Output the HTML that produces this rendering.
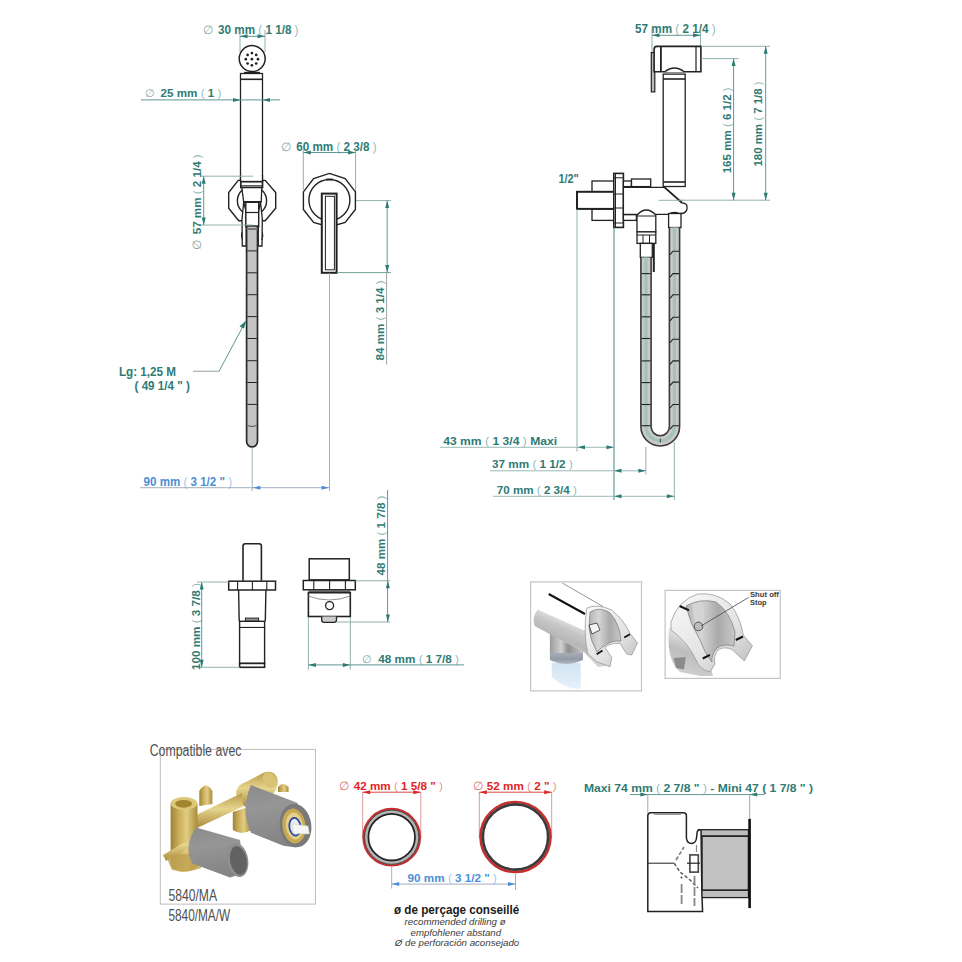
<!DOCTYPE html>
<html><head><meta charset="utf-8">
<style>
html,body{margin:0;padding:0;background:#fff;}
#c{position:relative;width:962px;height:962px;overflow:hidden;background:#fff;}
svg{position:absolute;left:0;top:0;}
text{font-family:"Liberation Sans",sans-serif;}
.t{font-weight:bold;font-size:12.5px;fill:#2e7b74;}
.tv{font-size:11.5px;}
.tb{font-weight:bold;font-size:12.5px;fill:#4a8fd6;}
.tr{font-weight:bold;font-size:12.5px;fill:#d62a2a;}
.pp{font-weight:normal;fill-opacity:0.55;}
.dm{stroke:#5f9893;stroke-width:1;fill:none;}
.ex{stroke:#86a9a6;stroke-width:0.9;fill:none;}
.bl{stroke:#a3afc0;stroke-width:1;fill:none;}
.rl{stroke:#d84848;stroke-width:1;fill:none;}
.k{stroke:#222;stroke-width:1.3;fill:none;}
.kw{stroke:#222;stroke-width:1.3;fill:#fff;}
.kt{stroke:#222;stroke-width:2.2;fill:none;}
.hose{stroke:#2a2a2a;stroke-width:1.7;fill:#c4c4c4;}
.seg{stroke:#8a8a8a;stroke-width:1.2;}
</style></head>
<body><div id="c">
<svg width="962" height="962" viewBox="0 0 962 962">
<g id="tl">
<text x="203.1" y="33.7" class="t" style="font-size:12px;font-weight:normal;fill:#8aa9a6">∅</text>
<text x="218.1" y="33.7" class="t" textLength="80.4" lengthAdjust="spacingAndGlyphs" >30 mm <tspan class="pp">(</tspan> 1 1/8 <tspan class="pp">)</tspan></text>
<line x1="240" y1="30" x2="240" y2="52" class="ex" />
<line x1="265" y1="30" x2="265" y2="52" class="ex" />
<line x1="240" y1="36.3" x2="265" y2="36.3" class="dm" />
<polygon points="240,36.3 247.5,34.3 247.5,38.3" fill="#2e7b74"/>
<polygon points="265,36.3 257.5,34.3 257.5,38.3" fill="#2e7b74"/>
<circle cx="252.2" cy="58.6" r="13" class="kw" style="stroke-width:1.5"/>
<circle cx="258.00" cy="59.20" r="1.35" fill="#222"/>
<circle cx="256.21" cy="63.51" r="1.35" fill="#222"/>
<circle cx="251.90" cy="65.30" r="1.35" fill="#222"/>
<circle cx="247.59" cy="63.51" r="1.35" fill="#222"/>
<circle cx="245.80" cy="59.20" r="1.35" fill="#222"/>
<circle cx="247.59" cy="54.89" r="1.35" fill="#222"/>
<circle cx="251.90" cy="53.10" r="1.35" fill="#222"/>
<circle cx="256.21" cy="54.89" r="1.35" fill="#222"/>
<circle cx="251.9" cy="59.2" r="1.35" fill="#222"/>
<path d="M244,72.5 L260,72.5" class="k" />
<rect x="240.5" y="73.5" width="22" height="108.5" class="kw" />
<line x1="240.5" y1="79.3" x2="262.5" y2="79.3" class="kt" style="stroke-width:1.6"/>
<text x="145.1" y="97.3" class="t" style="font-size:11px;font-weight:normal;fill:#8aa9a6">∅</text>
<text x="160.6" y="97.3" class="t" textLength="60.8" lengthAdjust="spacingAndGlyphs"  font-size="11" style="font-size:11px">25 mm <tspan class="pp">(</tspan> 1 <tspan class="pp">)</tspan></text>
<line x1="141" y1="99.9" x2="280" y2="99.9" class="dm" />
<polygon points="240.5,99.9 233.0,97.9 233.0,101.9" fill="#2e7b74"/>
<polygon points="262.5,99.9 270.0,97.9 270.0,101.9" fill="#2e7b74"/>
<polygon points="238.2,180.4 265.2,180.4 275.7,192.5 275.7,208.3 265.2,220.8 238.7,220.8 228.7,208.3 228.7,192.5" class="kw" style="stroke-width:1.4"/>
<circle cx="252" cy="200.8" r="14.6" class="k" style="stroke-width:1.4"/>
<rect x="241.2" y="176" width="20.6" height="6" class="k" style="stroke:none;fill:#fff"/>
<line x1="240.5" y1="175" x2="240.5" y2="182" class="k" />
<line x1="262.5" y1="175" x2="262.5" y2="182" class="k" />
<rect x="240.8" y="181.7" width="21.7" height="5.8" class="kw" style="stroke-width:1.7"/>
<line x1="241" y1="185.6" x2="262.3" y2="185.6" class="k" style="stroke-width:0.8"/>
<polygon points="241.8,187.5 261.8,187.5 261.2,202 243.7,202" class="kw"/>
<path d="M243.7,202 L242,219 L242.3,246 L246.2,246 L246.2,212 Z" class="kw" style="stroke-width:1.3"/>
<path d="M260.5,202 L262.3,219 L262,246 L258.3,246 L258.3,212 Z" class="kw" style="stroke-width:1.3"/>
<rect x="245.8" y="202" width="12.9" height="24.7" class="kw" style="stroke-width:1.4"/>
<line x1="243.5" y1="202" x2="261" y2="202" class="k" style="stroke-width:2"/>
<line x1="246" y1="212.5" x2="258.5" y2="212.5" class="k" style="stroke-width:1.2"/>
<path d="M242,232 Q240.5,236 242.5,240 M262.3,232 Q263.8,236 261.8,240" class="k" style="stroke-width:1"/>
<path d="M246.6,226 L246.6,441.5 A5.45,5.45 0 0 0 257.5,441.5 L257.5,226 Z" class="hose"/>
<line x1="246.6" y1="229" x2="257.5" y2="229" class="seg" style="stroke:#777;stroke-width:2"/>
<line x1="247.3" y1="250.9" x2="256.8" y2="250.9" class="k" style="stroke-width:1"/>
<line x1="247.3" y1="272.8" x2="256.8" y2="272.8" class="k" style="stroke-width:1"/>
<line x1="247.3" y1="294.7" x2="256.8" y2="294.7" class="k" style="stroke-width:1"/>
<line x1="247.3" y1="316.6" x2="256.8" y2="316.6" class="k" style="stroke-width:1"/>
<line x1="247.3" y1="338.5" x2="256.8" y2="338.5" class="k" style="stroke-width:1"/>
<line x1="247.3" y1="360.7" x2="256.8" y2="360.7" class="k" style="stroke-width:1"/>
<line x1="247.3" y1="382.5" x2="256.8" y2="382.5" class="k" style="stroke-width:1"/>
<line x1="247.3" y1="404.4" x2="256.8" y2="404.4" class="k" style="stroke-width:1"/>
<path d="M247.5,425.6 Q252,427.5 256.6,425.6" class="k" style="stroke-width:1;stroke:#555"/>
<line x1="200" y1="176.2" x2="253" y2="176.2" class="ex" />
<line x1="200" y1="225" x2="253" y2="225" class="ex" />
<line x1="203.7" y1="176.2" x2="203.7" y2="225" class="dm" />
<polygon points="203.7,176.2 201.7,183.7 205.7,183.7" fill="#2e7b74"/>
<polygon points="203.7,225 201.7,217.5 205.7,217.5" fill="#2e7b74"/>
<text x="0" y="0" class="t tv" style="font-weight:normal;fill:#8aa9a6" transform="translate(201,249.5) rotate(-90)">∅</text>
<text x="0" y="0" class="t tv" textLength="80" lengthAdjust="spacingAndGlyphs" transform="translate(200.8,234.3) rotate(-90)">57 mm <tspan class="pp">(</tspan> 2 1/4 <tspan class="pp">)</tspan></text>
<text x="280.6" y="151.2" class="t" style="font-size:12px;font-weight:normal;fill:#8aa9a6">∅</text>
<text x="296.2" y="151.2" class="t" textLength="80.4" lengthAdjust="spacingAndGlyphs"  font-size="12" style="font-size:12px">60 mm <tspan class="pp">(</tspan> 2 3/8 <tspan class="pp">)</tspan></text>
<line x1="303.3" y1="148" x2="303.3" y2="190" class="ex" />
<line x1="355.6" y1="148" x2="355.6" y2="197" class="ex" />
<line x1="303.3" y1="152.5" x2="355.6" y2="152.5" class="dm" />
<polygon points="303.3,152.5 310.8,150.5 310.8,154.5" fill="#2e7b74"/>
<polygon points="355.6,152.5 348.1,150.5 348.1,154.5" fill="#2e7b74"/>
<polygon points="329.4,173.4 345.2,178.5 355.4,191.9 355.4,209.4 345.2,222.5 329.4,227 313.6,222.5 303.4,209.4 303.4,191.9 313.6,178.5" class="kw" style="stroke-width:1.4"/>
<circle cx="329.4" cy="200" r="20.5" class="k" style="stroke-width:1.4"/>
<line x1="326" y1="179.5" x2="333" y2="179.5" class="k" style="stroke-width:1.8"/>
<rect x="321.8" y="193.6" width="14.8" height="79.2" class="kw" style="stroke-width:2"/>
<rect x="325.4" y="196.3" width="9" height="73.5" class="k" style="stroke-width:1"/>
<line x1="356" y1="200.6" x2="391" y2="200.6" class="ex" />
<line x1="336.8" y1="272.6" x2="391" y2="272.6" class="ex" style="stroke:#5f9893"/>
<line x1="387.2" y1="200.6" x2="387.2" y2="272.6" class="dm" />
<polygon points="387.2,200.6 385.2,208.1 389.2,208.1" fill="#2e7b74"/>
<polygon points="387.2,272.6 385.2,265.1 389.2,265.1" fill="#2e7b74"/>
<line x1="386.6" y1="273" x2="386.6" y2="364.6" class="ex" style="stroke:#999"/>
<text x="0" y="0" class="t tv" textLength="80" lengthAdjust="spacingAndGlyphs" transform="translate(383.6,360.4) rotate(-90)">84 mm <tspan class="pp">(</tspan> 3 1/4 <tspan class="pp">)</tspan></text>
<text x="119" y="375.8" class="t" textLength="57" lengthAdjust="spacingAndGlyphs" >Lg: 1,25 M</text>
<text x="134.5" y="389.5" class="t" textLength="55.5" lengthAdjust="spacingAndGlyphs" >( 49 1/4 " )</text>
<line x1="193" y1="371.3" x2="219" y2="371.3" class="ex" style="stroke:#a8b0b0;stroke-width:1.2"/>
<line x1="219" y1="371.3" x2="244.5" y2="323.5" class="dm" />
<polygon points="246.5,320 239.5,326.5 244,328.5" fill="#2e7b74"/>
<line x1="252.2" y1="448" x2="252.2" y2="491" class="ex" style="stroke:#9aa"/>
<line x1="329.5" y1="273" x2="329.5" y2="491" class="bl" />
<line x1="140" y1="487.7" x2="329.5" y2="487.7" class="bl" />
<polygon points="252.8,487.7 260.3,485.7 260.3,489.7" fill="#4a8fd6"/>
<polygon points="329,487.7 321.5,485.7 321.5,489.7" fill="#4a8fd6"/>
<text x="143.6" y="485.6" class="tb" textLength="88.4" lengthAdjust="spacingAndGlyphs"  font-size="12" style="font-size:12px">90 mm <tspan class="pp">(</tspan> 3 1/2 " <tspan class="pp">)</tspan></text>
</g>
<g id="tr">
<text x="635.1" y="33" class="t" textLength="80.5" lengthAdjust="spacingAndGlyphs"  font-size="12" style="font-size:12px">57 mm <tspan class="pp">(</tspan> 2 1/4 <tspan class="pp">)</tspan></text>
<line x1="652" y1="28" x2="652" y2="52" class="ex" />
<line x1="700.5" y1="28" x2="700.5" y2="46.5" class="ex" />
<line x1="652" y1="35.3" x2="700.5" y2="35.3" class="dm" />
<polygon points="652,35.3 659.5,33.3 659.5,37.3" fill="#2e7b74"/>
<polygon points="700.5,35.3 693.0,33.3 693.0,37.3" fill="#2e7b74"/>
<rect x="651.3" y="52.6" width="3.5" height="39.3" class="kw" style="stroke-width:1.2;fill:#bbb"/>
<path d="M657,46.4 L700.9,46.4 L700.9,71.8 L654.1,71.8 L654.1,49.4 Q654.1,46.4 657,46.4 Z" class="kw" style="stroke-width:1.6"/>
<line x1="660.9" y1="47" x2="660.9" y2="71.5" class="k" style="stroke-width:1.8"/>
<line x1="696" y1="47" x2="696" y2="71.5" class="k" style="stroke-width:1.2"/>
<path d="M664.5,72 Q674.4,64 684.5,72" class="kw" />
<rect x="663.2" y="74.1" width="22" height="112.4" class="kw" />
<line x1="663.2" y1="79" x2="685.2" y2="79" class="kt" style="stroke-width:1.6"/>
<line x1="663.2" y1="182" x2="685.2" y2="182" class="kt" style="stroke-width:1.6"/>
<line x1="701" y1="46.3" x2="770" y2="46.3" class="ex" />
<line x1="701" y1="58.6" x2="738.5" y2="58.6" class="ex" />
<line x1="659" y1="200.2" x2="770" y2="200.2" class="ex" />
<line x1="733.6" y1="58.6" x2="733.6" y2="200.2" class="dm" />
<polygon points="733.6,58.6 731.6,66.1 735.6,66.1" fill="#2e7b74"/>
<polygon points="733.6,200.2 731.6,192.7 735.6,192.7" fill="#2e7b74"/>
<line x1="765.7" y1="46.3" x2="765.7" y2="200.2" class="dm" />
<polygon points="765.7,46.3 763.7,53.8 767.7,53.8" fill="#2e7b74"/>
<polygon points="765.7,200.2 763.7,192.7 767.7,192.7" fill="#2e7b74"/>
<text x="0" y="0" class="t tv" textLength="86" lengthAdjust="spacingAndGlyphs" transform="translate(731,173.3) rotate(-90)">165 mm <tspan class="pp">(</tspan> 6 1/2 <tspan class="pp">)</tspan></text>
<text x="0" y="0" class="t tv" textLength="85" lengthAdjust="spacingAndGlyphs" transform="translate(762.4,166.5) rotate(-90)">180 mm <tspan class="pp">(</tspan> 7 1/8 <tspan class="pp">)</tspan></text>
<text x="558.4" y="182.6" class="t" textLength="20.4" lengthAdjust="spacingAndGlyphs" >1/2"</text>
<rect x="592" y="181" width="22" height="11" class="kw" />
<rect x="592" y="209" width="22" height="11.4" class="kw" />
<rect x="577" y="191.8" width="37" height="17.1" class="kw" style="stroke-width:2"/>
<rect x="613.8" y="173.4" width="9.6" height="54" class="kw" style="stroke-width:1.6"/>
<line x1="615.5" y1="174" x2="615.5" y2="227" class="k" style="stroke-width:1"/>
<line x1="614" y1="177.8" x2="623.4" y2="177.8" class="k" style="stroke-width:1"/>
<line x1="614" y1="194" x2="623.4" y2="194" class="k" style="stroke-width:1"/>
<line x1="614" y1="208" x2="623.4" y2="208" class="k" style="stroke-width:1"/>
<line x1="614" y1="223" x2="623.4" y2="223" class="k" style="stroke-width:1"/>
<rect x="623.4" y="181" width="8" height="5.6" class="kw" />
<rect x="631.5" y="179" width="19.2" height="7.6" class="kw" />
<rect x="623.4" y="214.7" width="13" height="5.7" class="kw" />
<path d="M623.4,187.3 L664.6,187.3 L682,202.8 Q688,203 687,209 Q686,213 682,213.5 L679,213.5 Q674,211 668,214.3 L623.4,214.3 Z" class="kw" />
<line x1="664.6" y1="187.3" x2="682" y2="202.8" class="k" style="stroke-width:1.6"/>
<line x1="658.5" y1="200.3" x2="683" y2="200.3" class="ex" />
<path d="M637,231.9 L637,215 Q646.3,205 655.8,215 L655.8,231.9 Z" class="kw" />
<line x1="637" y1="216" x2="655.8" y2="216" class="k" style="stroke-width:1"/>
<rect x="637" y="231.9" width="18.8" height="11.5" class="kw" />
<line x1="637" y1="235" x2="655.8" y2="235" class="k" style="stroke-width:1"/>
<line x1="643" y1="235" x2="643" y2="243.4" class="k" style="stroke-width:1"/>
<line x1="649.5" y1="235" x2="649.5" y2="243.4" class="k" style="stroke-width:1"/>
<rect x="640.3" y="243.4" width="12" height="14" class="kw" />
<line x1="653.8" y1="244" x2="653.8" y2="272" class="k" style="stroke-width:2"/>
<rect x="668.6" y="213.5" width="12.4" height="14" class="kw" />
<path d="M646,257.4 L646,426.6 A14.25,14.25 0 0 0 674.5,426.6 L674.5,227.5" fill="none" stroke="#3a3a3a" stroke-width="11.8"/>
<path d="M646,257.4 L646,426.6 A14.25,14.25 0 0 0 674.5,426.6 L674.5,227.5" fill="none" stroke="#c9c9c9" stroke-width="8.6"/>
<path d="M646,257.4 L646,426.6 A14.25,14.25 0 0 0 674.5,426.6 L674.5,227.5" fill="none" stroke="#a3c2bb" stroke-width="3.2"/>
<line x1="641.5" y1="273.6" x2="650.5" y2="273.6" class="k" style="stroke-width:1.1"/>
<line x1="641.5" y1="294.8" x2="650.5" y2="294.8" class="k" style="stroke-width:1.1"/>
<line x1="641.5" y1="316.8" x2="650.5" y2="316.8" class="k" style="stroke-width:1.1"/>
<line x1="641.5" y1="338.5" x2="650.5" y2="338.5" class="k" style="stroke-width:1.1"/>
<line x1="641.5" y1="360.9" x2="650.5" y2="360.9" class="k" style="stroke-width:1.1"/>
<line x1="641.5" y1="382.6" x2="650.5" y2="382.6" class="k" style="stroke-width:1.1"/>
<line x1="641.5" y1="404.5" x2="650.5" y2="404.5" class="k" style="stroke-width:1.1"/>
<line x1="641.5" y1="425.7" x2="650.5" y2="425.7" class="k" style="stroke-width:1.1"/>
<path d="M670.0,254.7 L673.0,251.2 L679.0,251.2" class="k" style="stroke-width:1.1"/>
<path d="M670.0,277.1 L673.0,273.6 L679.0,273.6" class="k" style="stroke-width:1.1"/>
<path d="M670.0,298.3 L673.0,294.8 L679.0,294.8" class="k" style="stroke-width:1.1"/>
<path d="M670.0,320.8 L673.0,317.3 L679.0,317.3" class="k" style="stroke-width:1.1"/>
<path d="M670.0,342.7 L673.0,339.2 L679.0,339.2" class="k" style="stroke-width:1.1"/>
<path d="M670.0,364.4 L673.0,360.9 L679.0,360.9" class="k" style="stroke-width:1.1"/>
<path d="M670.0,385.6 L673.0,382.1 L679.0,382.1" class="k" style="stroke-width:1.1"/>
<path d="M670.0,408.0 L673.0,404.5 L679.0,404.5" class="k" style="stroke-width:1.1"/>
<path d="M670.0,429.2 L673.0,425.7 L679.0,425.7" class="k" style="stroke-width:1.1"/>
<line x1="660.25" y1="438.5" x2="660.25" y2="442.5" class="k" style="stroke-width:0.8"/>
<line x1="577" y1="209" x2="577" y2="451.5" class="ex" />
<line x1="614" y1="227.4" x2="614" y2="500" class="dm" style="stroke:#3e8a85"/>
<line x1="645.9" y1="447" x2="645.9" y2="474.5" class="ex" />
<line x1="674.3" y1="442" x2="674.3" y2="500" class="ex" />
<line x1="440" y1="447.3" x2="614" y2="447.3" class="dm" style="stroke:#9bbab7"/>
<polygon points="577.5,447.3 585.0,445.3 585.0,449.3" fill="#2e7b74"/>
<polygon points="614,447.3 606.5,445.3 606.5,449.3" fill="#2e7b74"/>
<line x1="490" y1="470.8" x2="645.9" y2="470.8" class="dm" style="stroke:#9bbab7"/>
<polygon points="614,470.8 621.5,468.8 621.5,472.8" fill="#2e7b74"/>
<polygon points="645.9,470.8 638.4,468.8 638.4,472.8" fill="#2e7b74"/>
<line x1="493" y1="496.3" x2="674.3" y2="496.3" class="dm" style="stroke:#9bbab7"/>
<polygon points="614,496.3 621.5,494.3 621.5,498.3" fill="#2e7b74"/>
<polygon points="674.3,496.3 666.8,494.3 666.8,498.3" fill="#2e7b74"/>
<text x="443.2" y="444.6" class="t" textLength="114" lengthAdjust="spacingAndGlyphs"  font-size="11" style="font-size:11px">43 mm <tspan class="pp">(</tspan> 1 3/4 <tspan class="pp">)</tspan>  Maxi</text>
<text x="492.1" y="468.1" class="t" textLength="80.7" lengthAdjust="spacingAndGlyphs"  font-size="11" style="font-size:11px">37 mm <tspan class="pp">(</tspan> 1 1/2 <tspan class="pp">)</tspan></text>
<text x="496.8" y="494" class="t" textLength="80" lengthAdjust="spacingAndGlyphs"  font-size="11" style="font-size:11px">70 mm <tspan class="pp">(</tspan> 2 3/4 <tspan class="pp">)</tspan></text>
</g>
<g id="mid">
<path d="M243,580.7 L243,546 Q243,543.7 245.3,543.7 L259.1,543.7 Q261.4,543.7 261.4,546 L261.4,580.7" class="kw" style="stroke-width:1.6"/>
<rect x="228.7" y="581.2" width="46.8" height="8.8" class="kw" style="stroke-width:1.5"/>
<line x1="237.6" y1="581.2" x2="237.6" y2="590" class="k" style="stroke-width:1.1"/>
<line x1="252.4" y1="581.2" x2="252.4" y2="590" class="k" style="stroke-width:1.1"/>
<line x1="266.8" y1="581.2" x2="266.8" y2="590" class="k" style="stroke-width:1.1"/>
<path d="M238.6,590 L239.2,621.3 M265.9,590 L265.3,621.3" class="k" style="stroke-width:1.4"/>
<rect x="245.4" y="618.1" width="13.2" height="3.2" class="kw" style="fill:#999;stroke-width:1"/>
<rect x="239.6" y="621.3" width="25" height="6.7" class="kw" style="stroke-width:1.4"/>
<line x1="239.6" y1="628" x2="264.6" y2="628" class="k" style="stroke-width:2.2"/>
<path d="M239.6,628 L239.6,663.4 L264.6,663.4 L264.6,628" class="kw" style="stroke-width:1.4"/>
<rect x="239.6" y="663.4" width="25" height="3.9" class="kw" style="stroke-width:1.6"/>
<line x1="197" y1="582" x2="228.7" y2="582" class="ex" />
<line x1="197" y1="667.3" x2="240" y2="667.3" class="ex" />
<line x1="201.7" y1="582" x2="201.7" y2="667.3" class="dm" />
<polygon points="201.7,582 199.7,589.5 203.7,589.5" fill="#2e7b74"/>
<polygon points="201.7,667.3 199.7,659.8 203.7,659.8" fill="#2e7b74"/>
<text x="0" y="0" class="t tv" textLength="87" lengthAdjust="spacingAndGlyphs" transform="translate(200,670) rotate(-90)">100 mm <tspan class="pp">(</tspan> 3 7/8 <tspan class="pp">)</tspan></text>
<rect x="309.2" y="558.8" width="40.1" height="21.1" class="kw" style="stroke-width:1.5"/>
<rect x="303.3" y="580.5" width="52" height="9.3" class="kw" style="stroke-width:1.5"/>
<line x1="313.8" y1="580.5" x2="313.8" y2="589.8" class="k" style="stroke-width:1.1"/>
<line x1="329.6" y1="580.5" x2="329.6" y2="589.8" class="k" style="stroke-width:1.1"/>
<line x1="345.4" y1="580.5" x2="345.4" y2="589.8" class="k" style="stroke-width:1.1"/>
<rect x="308.4" y="592.7" width="41.9" height="23.8" class="kw" style="stroke-width:1.6"/>
<path d="M308.4,596 Q329.3,604 350.3,596" class="k" style="stroke-width:0.8;stroke:#777"/>
<line x1="308.4" y1="591.2" x2="350.3" y2="591.2" class="k" style="stroke-width:1"/>
<circle cx="329.6" cy="605.6" r="4" class="k" style="stroke-width:1.3"/>
<path d="M321.7,616.5 L321.7,620 Q321.7,622.4 324,622.4 L334.2,622.4 Q336.5,622.4 336.5,620 L336.5,616.5" class="kw" style="stroke-width:1.3;fill:#ccc"/>
<line x1="355.3" y1="580.8" x2="390" y2="580.8" class="ex" />
<line x1="336.5" y1="622" x2="390" y2="622" class="ex" />
<line x1="387.6" y1="490" x2="387.6" y2="622" class="dm" />
<polygon points="387.9,580.8 385.9,588.3 389.9,588.3" fill="#2e7b74"/>
<polygon points="387.9,622 385.9,614.5 389.9,614.5" fill="#2e7b74"/>
<text x="0" y="0" class="t tv" textLength="80" lengthAdjust="spacingAndGlyphs" transform="translate(384.7,575.5) rotate(-90)">48 mm <tspan class="pp">(</tspan> 1 7/8 <tspan class="pp">)</tspan></text>
<line x1="308.4" y1="617" x2="308.4" y2="669.8" class="ex" />
<line x1="350.3" y1="617" x2="350.3" y2="669.8" class="ex" />
<line x1="308.4" y1="664.9" x2="464" y2="664.9" class="dm" />
<polygon points="308.4,664.9 315.9,662.9 315.9,666.9" fill="#2e7b74"/>
<polygon points="350.3,664.9 342.8,662.9 342.8,666.9" fill="#2e7b74"/>
<text x="362.2" y="662.9" class="t" style="font-size:11px;font-weight:normal;fill:#8aa9a6">∅</text>
<text x="378.3" y="662.9" class="t" textLength="80.7" lengthAdjust="spacingAndGlyphs"  font-size="11" style="font-size:11px">48 mm <tspan class="pp">(</tspan> 1 7/8 <tspan class="pp">)</tspan></text>
</g>
<defs>
<linearGradient id="gTube" gradientUnits="userSpaceOnUse" x1="560" y1="612" x2="548" y2="640"><stop offset="0" stop-color="#f0f0f0"/><stop offset="0.45" stop-color="#c6c6c6"/><stop offset="0.8" stop-color="#b6b6b6"/><stop offset="1" stop-color="#d2d2d2"/></linearGradient>
<linearGradient id="gPipe" x1="0" y1="0" x2="1" y2="0"><stop offset="0" stop-color="#9c9c9c"/><stop offset="0.35" stop-color="#d0d0d0"/><stop offset="0.55" stop-color="#8e8e8e"/><stop offset="1" stop-color="#c4c4c4"/></linearGradient>
<linearGradient id="gNut" x1="0" y1="0" x2="0" y2="1"><stop offset="0" stop-color="#a9afb8"/><stop offset="0.6" stop-color="#939aa6"/><stop offset="1" stop-color="#b4bac4"/></linearGradient>
<linearGradient id="gHose" x1="0" y1="0" x2="0" y2="1"><stop offset="0" stop-color="#d2e4f2"/><stop offset="1" stop-color="#e6f1fa"/></linearGradient>
<linearGradient id="gIn" x1="0" y1="0" x2="1" y2="0"><stop offset="0" stop-color="#b4b4b4"/><stop offset="0.3" stop-color="#d6d6d6"/><stop offset="0.65" stop-color="#aaaaaa"/><stop offset="1" stop-color="#c8c8c8"/></linearGradient>
<linearGradient id="gOut" x1="0" y1="0" x2="1" y2="1"><stop offset="0" stop-color="#fafafa"/><stop offset="0.6" stop-color="#e2e2e2"/><stop offset="1" stop-color="#bcbcbc"/></linearGradient>
<linearGradient id="gTube2" gradientUnits="userSpaceOnUse" x1="690" y1="630" x2="676" y2="672"><stop offset="0" stop-color="#f0f0f0"/><stop offset="0.5" stop-color="#bdbdbd"/><stop offset="1" stop-color="#d0d0d0"/></linearGradient>
</defs>
<g id="ph1">
<rect x="530.6" y="581.9" width="110.9" height="109" class="k" style="stroke:#c4c4c4;stroke-width:1.2;fill:#fff"/>
<path d="M551.8,663 L580.7,663 L580.7,688.6 Q566,690 551.8,677 Z" fill="url(#gHose)"/>
<path d="M549.9,652 L583,652 L583,660 Q566,668 549.9,660 Z" fill="url(#gNut)"/>
<rect x="549.9" y="634" width="33" height="19" class="k" style="stroke:none;fill:url(#gPipe)"/>
<path d="M537.5,609.5 L590,633 L606,666 L598,667 L584.6,652.7 L534.7,626 Q531.5,618 537.5,609.5 Z" fill="url(#gTube)"/>
<path d="M586.7,608.3 Q596.7,603 611.7,610 Q624,620 630,633.3 L637.5,643 L631.7,655 L626.7,654 L620,643.3 Q610,643 605,647.5 L611.7,657.5 L610,666.7 L596.7,661.7 L588,654 Q583,635 586.7,608.3 Z" fill="url(#gOut)" stroke="#9a9a9a" stroke-width="0.8"/>
<path d="M590,612 Q600,606 610,613 Q620,624 621,641 Q612,640 604,646 Q598,650 597,652 Q590,640 589,628 Z" fill="url(#gIn)" stroke="#7a7a7a" stroke-width="0.7"/>
<polygon points="589,625 597,623 600,630 592,634" fill="#f4f4f4" stroke="#333" stroke-width="0.8"/>
<line x1="562.4" y1="583.1" x2="603" y2="606.5" class="k" style="stroke:#8a8a8a;stroke-width:0.9"/>
<line x1="548.7" y1="594" x2="585" y2="614" class="k" style="stroke:#111;stroke-width:2"/>
<line x1="624.2" y1="637.5" x2="630" y2="634.2" class="k" style="stroke:#111;stroke-width:1.8"/>
<line x1="596.7" y1="654.2" x2="602.5" y2="650.4" class="k" style="stroke:#111;stroke-width:1.8"/>
</g>
<g id="ph2">
<rect x="665.1" y="590.4" width="115.2" height="88" class="k" style="stroke:#c4c4c4;stroke-width:1.2;fill:#fff"/>
<path d="M669,628 L690,626 L704,646 L713,676 L700,676 L680,672 Q666,660 669,628 Z" fill="url(#gTube2)"/>
<path d="M673.5,658 L685.8,657 L684,669.4 L676,668 Z" fill="#8c8c8c"/>
<path d="M671,622 Q678,600 698,594 Q716,592 730,604 Q740,616 743.4,635.4 L752.4,645.8 L744.3,660.9 L732,649.5 Q724,646 718,650 Q713,656 715,664 L710,672 Q700,670 696,660 Q688,642 671,630 Z" fill="url(#gOut)" stroke="#9a9a9a" stroke-width="0.8"/>
<path d="M686,606 Q700,598 716,602 Q730,612 735,632 L734,646 Q724,643 717,648 Q711,655 712,662 Q704,652 700,640 Q690,624 686,606 Z" fill="url(#gIn)" stroke="#7a7a7a" stroke-width="0.7"/>
<path d="M692,604 Q700,601 704,608 Q704,622 702,640 Q694,626 692,604 Z" fill="#d4d4d4"/>
<circle cx="698.5" cy="626.4" r="4.3" fill="#bdbdbd" stroke="#555" stroke-width="1"/>
<line x1="679.6" y1="606" x2="689" y2="610.3" class="k" style="stroke:#111;stroke-width:2"/>
<line x1="735.8" y1="640" x2="743" y2="636.5" class="k" style="stroke:#111;stroke-width:2"/>
<line x1="702.8" y1="658.5" x2="709.9" y2="654.8" class="k" style="stroke:#111;stroke-width:2"/>
<line x1="748.5" y1="597.5" x2="701" y2="626" class="k" style="stroke:#444;stroke-width:0.8"/>
<text x="750" y="596.6" style="font-size:7px;font-weight:bold;fill:#3a3a3a" textLength="28.9" lengthAdjust="spacingAndGlyphs">Shut off</text>
<text x="750" y="605.1" style="font-size:7px;font-weight:bold;fill:#3a3a3a" textLength="16.6" lengthAdjust="spacingAndGlyphs">Stop</text>
</g>
<defs>
<linearGradient id="gBr" x1="0" y1="0" x2="1" y2="0"><stop offset="0" stop-color="#9c8238"/><stop offset="0.3" stop-color="#c9ad58"/><stop offset="0.6" stop-color="#e2cd82"/><stop offset="1" stop-color="#a88c3c"/></linearGradient>
<linearGradient id="gBr2" x1="0" y1="0" x2="0" y2="1"><stop offset="0" stop-color="#b89a48"/><stop offset="0.45" stop-color="#e6d58e"/><stop offset="1" stop-color="#a88a3a"/></linearGradient>
<linearGradient id="gGy" x1="0" y1="0" x2="0.15" y2="1"><stop offset="0" stop-color="#8a8a8a"/><stop offset="0.4" stop-color="#969696"/><stop offset="1" stop-color="#848484"/></linearGradient>
</defs>
<g id="compat">
<rect x="160.3" y="749.4" width="155.1" height="154.7" class="k" style="stroke:#bdbdbd;stroke-width:1;fill:none"/>
<text x="149.7" y="756.3" style="font-size:16px;fill:#505050" textLength="91.7" lengthAdjust="spacingAndGlyphs">Compatible avec</text>
<text x="168.4" y="900.8" style="font-size:16.5px;fill:#505050" textLength="48.6" lengthAdjust="spacingAndGlyphs">5840/MA</text>
<text x="168.4" y="920.7" style="font-size:16.5px;fill:#505050" textLength="61.8" lengthAdjust="spacingAndGlyphs">5840/MA/W</text>
<path d="M236,792 Q238,784 246,782 L263,773 Q274,769 277.5,779 Q279,790 271,795 L250,808 Q238,806 236,792 Z" fill="url(#gBr2)"/>
<ellipse cx="269.5" cy="780" rx="6.5" ry="8.5" fill="#d9c274" transform="rotate(-30 269.5 780)"/>
<path d="M278,792 L278,787 Q283,781 288.6,787 L288.6,792 Z" fill="url(#gBr)"/>
<path d="M232.8,812 L251,806 L251,830 Q242,836 232.8,830 Z" fill="url(#gBr)"/>
<path d="M199.3,806 L199.3,791 Q205.8,780 212.4,791 L212.4,804 Z" fill="url(#gBr)"/>
<polygon points="197,814.5 242,793 243,806.5 197,828" fill="url(#gBr2)"/>
<path d="M170.6,803.5 L197.5,803.5 L197.5,866 Q192,872 184,872 Q176,872 170.6,866 Z" fill="url(#gBr)"/>
<ellipse cx="184" cy="803.5" rx="13.4" ry="6.5" fill="#dcc678"/>
<ellipse cx="183.6" cy="803.8" rx="8.4" ry="3.9" fill="#a38530"/>
<polygon points="163,855 203,831 206,836 166,861" fill="url(#gBr2)"/>
<path d="M166,856 L201,852 L201,868 Q190,873 172,870 Z" fill="#bfa352" opacity="0.85"/>
<path d="M251,785 L297.7,802.9 L296,847.5 L283.4,845.7 L251,832.7 Q240,810 251,785 Z" fill="url(#gGy)"/>
<ellipse cx="295.5" cy="825.5" rx="15.8" ry="21.8" fill="#7a7a7a" transform="rotate(-8 295.5 825.5)"/>
<ellipse cx="294" cy="826" rx="11.5" ry="17.5" fill="#c9aa52" transform="rotate(-8 294 826)"/>
<ellipse cx="294.5" cy="826" rx="8.5" ry="13.5" fill="#e4d08e" transform="rotate(-8 294.5 826)"/>
<ellipse cx="295" cy="826.8" rx="6.5" ry="9.8" fill="#2a4a9a" transform="rotate(-8 295 826.8)"/>
<ellipse cx="295" cy="826.8" rx="4.8" ry="8" fill="#e8ecf0" transform="rotate(-8 295 826.8)"/>
<polygon points="292.5,824 308,826 309.4,834 293,833.5" fill="#f6f6f6" stroke="#c8c8c8" stroke-width="0.5"/>
<path d="M196.2,827.4 L240,840 L245,873 L230,877.4 L192.5,863.6 Q183,846 196.2,827.4 Z" fill="url(#gGy)"/>
<ellipse cx="237.6" cy="860" rx="10.5" ry="17.2" fill="#8e8e8e" transform="rotate(-10 237.6 860)"/>
<ellipse cx="238.4" cy="860.5" rx="8.3" ry="14.5" fill="#626262" transform="rotate(-10 238.4 860.5)"/>
</g>
<g id="circ">
<line x1="362.7" y1="792.2" x2="362.7" y2="838" class="rl" style="stroke:#d99"/>
<line x1="420.8" y1="792.2" x2="420.8" y2="838" class="rl" style="stroke:#d99"/>
<line x1="362.7" y1="792.2" x2="420.8" y2="792.2" class="rl" />
<polygon points="362.7,792.2 370.2,790.2 370.2,794.2" fill="#e02525"/>
<polygon points="420.8,792.2 413.3,790.2 413.3,794.2" fill="#e02525"/>
<text x="338.7" y="789.5" style="font-size:11.5px;fill:#e07070">∅</text>
<text x="353.7" y="789.5" class="tr" style="fill:#e02525;font-size:11.5px" textLength="89.2" lengthAdjust="spacingAndGlyphs">42 mm <tspan class="pp">(</tspan> 1 5/8 " <tspan class="pp">)</tspan></text>
<circle cx="391.7" cy="837.2" r="26" fill="none" stroke="#b4b4b4" stroke-width="4"/>
<circle cx="391.7" cy="837.2" r="28.3" fill="none" stroke="#c62f2f" stroke-width="2.2"/>
<circle cx="391.7" cy="837.2" r="27.1" fill="none" stroke="#333" stroke-width="0.8"/>
<circle cx="391.7" cy="837.2" r="23.3" fill="none" stroke="#222" stroke-width="1.8"/>
<line x1="479.3" y1="792.2" x2="479.3" y2="838" class="rl" style="stroke:#d99"/>
<line x1="551.7" y1="792.2" x2="551.7" y2="838" class="rl" style="stroke:#d99"/>
<line x1="479.3" y1="792.2" x2="551.7" y2="792.2" class="rl" />
<polygon points="479.3,792.2 486.8,790.2 486.8,794.2" fill="#e02525"/>
<polygon points="551.7,792.2 544.2,790.2 544.2,794.2" fill="#e02525"/>
<text x="472.5" y="789.5" style="font-size:11.5px;fill:#e07070">∅</text>
<text x="486.8" y="789.5" class="tr" style="fill:#e02525;font-size:11.5px" textLength="69.9" lengthAdjust="spacingAndGlyphs">52 mm <tspan class="pp">(</tspan> 2 " <tspan class="pp">)</tspan></text>
<circle cx="515.5" cy="837" r="35" fill="none" stroke="#c62f2f" stroke-width="2.6"/>
<circle cx="515.5" cy="837" r="32.6" fill="none" stroke="#3a3a3a" stroke-width="2.6"/>
<line x1="391.7" y1="866" x2="391.7" y2="888.5" class="bl" />
<line x1="515.5" y1="873.5" x2="515.5" y2="890" class="bl" />
<line x1="391.7" y1="884.1" x2="515.5" y2="884.1" class="bl" />
<polygon points="391.7,884.1 399.2,882.1 399.2,886.1" fill="#4a8fd6"/>
<polygon points="515.5,884.1 508.0,882.1 508.0,886.1" fill="#4a8fd6"/>
<text x="407.6" y="881.8" class="tb" style="font-size:11px" textLength="89.4" lengthAdjust="spacingAndGlyphs">90 mm <tspan class="pp">(</tspan> 3 1/2 " <tspan class="pp">)</tspan></text>
<text x="394" y="914" style="font-size:12px;font-weight:bold;fill:#1a1a1a" textLength="125.2" lengthAdjust="spacingAndGlyphs">ø de perçage conseillé</text>
<text x="404.6" y="925.3" style="font-size:9.3px;font-style:italic;fill:#3a3a3a" textLength="101" lengthAdjust="spacingAndGlyphs">recommended drilling ø</text>
<text x="410.6" y="936" style="font-size:9.3px;font-style:italic;fill:#3a3a3a" textLength="90.5" lengthAdjust="spacingAndGlyphs">empfohlener abstand</text>
<text x="394.8" y="946.4" style="font-size:9.3px;font-style:italic;fill:#3a3a3a" textLength="124.4" lengthAdjust="spacingAndGlyphs">Ø de perforación aconsejado</text>
</g>
<g id="mm">
<text x="584" y="792" class="t" style="font-size:11.5px" textLength="229" lengthAdjust="spacingAndGlyphs">Maxi  74 mm <tspan class="pp">(</tspan> 2 7/8 " <tspan class="pp">)</tspan>  - Mini 47 ( 1 7/8 " )</text>
<line x1="630" y1="794.6" x2="764.6" y2="794.6" class="dm" />
<line x1="647.8" y1="794" x2="647.8" y2="812.8" class="ex" />
<line x1="749.7" y1="794" x2="749.7" y2="819" class="ex" />
<polygon points="647.8,794.6 640.3,792.6 640.3,796.6" fill="#2e7b74"/>
<polygon points="749.7,794.6 757.2,792.6 757.2,796.6" fill="#2e7b74"/>
<rect x="698.5" y="829.7" width="50" height="6.5" class="kw" style="fill:#bdbdbd;stroke-width:1.3"/>
<rect x="701.9" y="836.2" width="46.6" height="54.1" class="kw" style="fill:#c2c2c2;stroke-width:1.6"/>
<rect x="700.5" y="890.3" width="48" height="7.3" class="kw" style="fill:#bdbdbd;stroke-width:1.3"/>
<line x1="749.6" y1="818.9" x2="749.6" y2="908.1" class="k" style="stroke-width:2.6;stroke:#111"/>
<path d="M650.8,812.8 L683.4,812.8 Q686.4,812.8 686.4,815.8 L686.4,838 Q687,843.5 691.8,843.5 Q696,843 696.5,838 L697.2,832 Q697.6,829.7 700,829.7 L701,829.7 L701.9,894.6 L702.6,911.5 L647.8,911.5 L647.8,815.8 Q647.8,812.8 650.8,812.8 Z" class="kw" style="stroke-width:1.5"/>
<line x1="648" y1="863.2" x2="674.2" y2="863.2" class="k" style="stroke-width:1"/>
<line x1="654" y1="814.5" x2="681" y2="814.5" class="k" style="stroke:#999;stroke-width:1"/>
<path d="M676,860 L684,847" class="k" style="stroke:#888;stroke-width:1.8;stroke-dasharray:4,2"/>
<path d="M674.2,863.2 L680,872 L690,880 L698,888" class="k" style="stroke:#666;stroke-width:1.6;stroke-dasharray:3.5,2"/>
<path d="M681.6,884 L681.6,906 M694.5,876 L694.5,906" class="k" style="stroke:#888;stroke-width:1.8;stroke-dasharray:9,2"/>
<rect x="689.9" y="854.9" width="8.4" height="17.2" class="kw" style="stroke-width:1.6;stroke:#444"/>
<line x1="687" y1="863.2" x2="700" y2="863.2" class="k" style="stroke-width:1.2"/>
<path d="M696.5,845 L696.5,852" class="k" style="stroke:#888;stroke-width:1.2"/>
<circle cx="681.5" cy="877.5" r="0.9" fill="#333"/>
</g>
</svg>
</div></body></html>
